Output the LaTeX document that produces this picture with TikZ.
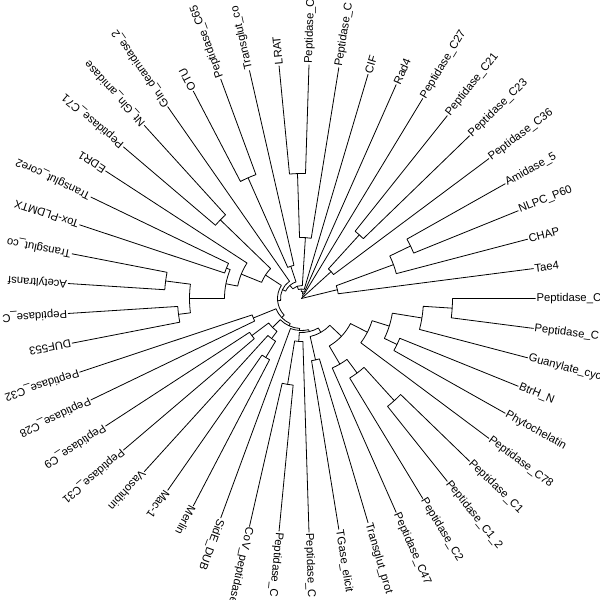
\documentclass[tikz,border=0pt]{standalone}
\usepackage{fontspec}
\setmainfont{Liberation Sans}
\newcommand\tipL[3]{\coordinate (#1) at (#2:234pt); \node[lab,rotate=#2] (#1n) at (#1) {#3};}
\newcommand\clade[7]{\coordinate (#1) at (#2:#3pt);
  \draw[br] (#4) -- (#5:#3pt) arc[start angle=#5, end angle=#7, radius=#3pt] -- (#6);}
\begin{document}
\begin{tikzpicture}[x=1pt,y=1pt,
  br/.style={line width=0.8pt, line join=round},
  lab/.style={anchor=west, inner sep=0.8pt, font=\fontsize{11.3pt}{13pt}\selectfont}]
\useasboundingbox (0,0) rectangle (600,600);
\fill[white] (0,0) rectangle (600,600);
\clip (0,0) rectangle (600,600);
\begin{scope}[shift={(301.5,301.5)}]
\tipL{t1}{7.347}{Tae4}
\tipL{t2}{14.694}{CHAP}
\tipL{t3}{22.041}{NLPC\_P60}
\tipL{t4}{29.388}{Amidase\_5}
\tipL{t5}{36.735}{Peptidase\_C36}
\tipL{t6}{44.082}{Peptidase\_C23}
\tipL{t7}{51.429}{Peptidase\_C21}
\tipL{t8}{58.776}{Peptidase\_C27}
\tipL{t9}{66.122}{Rad4}
\tipL{t10}{73.469}{CIF}
\tipL{t11}{80.816}{Peptidase\_C}
\tipL{t12}{88.163}{Peptidase\_C}
\tipL{t13}{95.510}{LRAT}
\tipL{t14}{102.857}{Transglut\_co}
\tipL{t15}{110.204}{Peptidase\_C65}
\tipL{t16}{117.551}{OTU}
\tipL{t17}{124.898}{Gln\_deamidase\_2}
\tipL{t18}{132.245}{Nt\_Gln\_amidase}
\tipL{t19}{139.592}{Peptidase\_C71}
\tipL{t20}{146.939}{EDR1}
\tipL{t21}{154.286}{Transglut\_core2}
\tipL{t22}{161.633}{Tox-PLDMTX}
\tipL{t23}{168.980}{Transglut\_co}
\tipL{t24}{176.327}{Acetyltransf}
\tipL{t25}{183.673}{Peptidase\_C}
\tipL{t26}{191.020}{DUF553}
\tipL{t27}{198.367}{Peptidase\_C32}
\tipL{t28}{205.714}{Peptidase\_C28}
\tipL{t29}{213.061}{Peptidase\_C9}
\tipL{t30}{220.408}{Peptidase\_C31}
\tipL{t31}{227.755}{Vasohibin}
\tipL{t32}{235.102}{Mac-1}
\tipL{t33}{242.449}{Merlin}
\tipL{t34}{249.796}{SidE\_DUB}
\tipL{t35}{257.143}{CoV\_peptidase}
\tipL{t36}{264.490}{Peptidase\_C}
\tipL{t37}{271.837}{Peptidase\_C}
\tipL{t38}{279.184}{TGase\_elicit}
\tipL{t39}{286.531}{Transglut\_prot}
\tipL{t40}{293.878}{Peptidase\_C47}
\tipL{t41}{301.224}{Peptidase\_C2}
\tipL{t42}{308.571}{Peptidase\_C1\_2}
\tipL{t43}{315.918}{Peptidase\_C1}
\tipL{t44}{323.265}{Peptidase\_C78}
\tipL{t45}{330.612}{Phytochelatin}
\tipL{t46}{337.959}{BtrH\_N}
\tipL{t47}{345.306}{Guanylate\_cyc}
\tipL{t48}{352.653}{Peptidase\_C}
\tipL{t49}{360}{Peptidase\_C}
% clades: name, angle, radius, child1, angle1, child2, angle2
\clade{kAN}{25.714}{121}{t4}{29.388}{t3}{22.041}
\clade{L1}{20.204}{98}{kAN}{25.714}{t2}{14.694}
\clade{M}{13.776}{37}{L1}{20.204}{t1}{7.347}
\clade{O}{47.755}{86}{t7}{51.429}{t6}{44.082}
\clade{N}{42.245}{40}{O}{47.755}{t5}{36.735}
\clade{Na}{91.837}{125}{t13}{95.510}{t12}{88.163}
\clade{Nb}{86.327}{61}{Na}{91.837}{t11}{80.816}
\clade{P}{113.878}{132}{t16}{117.551}{t15}{110.204}
\clade{TP}{108.367}{34}{P}{113.878}{t14}{102.857}
\clade{Q}{135.918}{113}{t19}{139.592}{t18}{132.245}
\clade{R}{157.959}{81}{t22}{161.633}{t21}{154.286}
\clade{S}{172.653}{137}{t24}{176.327}{t23}{168.980}
\clade{T}{187.347}{124}{t26}{191.020}{t25}{183.673}
\clade{U}{180}{112}{T}{187.347}{S}{172.653}
\clade{FF}{168.980}{77}{U}{180}{R}{157.959}
\clade{GG}{157.959}{65}{FF}{168.980}{t20}{146.939}
\clade{V}{146.939}{43}{GG}{157.959}{Q}{135.918}
\clade{BB}{202.041}{52}{t28}{205.714}{t27}{198.367}
\clade{CC}{216.735}{62}{t30}{220.408}{t29}{213.061}
\clade{W}{238.776}{69}{t33}{242.449}{t32}{235.102}
\clade{DD}{233.265}{50}{W}{238.776}{t31}{227.755}
\clade{EE}{225.0}{41}{DD}{233.265}{CC}{216.735}
\clade{X}{260.816}{87}{t36}{264.490}{t35}{257.143}
\clade{Y}{266.327}{43}{t37}{271.837}{X}{260.816}
\clade{AA}{282.857}{63}{t39}{286.531}{t38}{279.184}
\clade{A}{356.327}{151}{t49}{360}{t48}{352.653}
\clade{B}{350.816}{122}{A}{356.327}{t47}{345.306}
\clade{C}{334.286}{106}{t46}{337.959}{t45}{330.612}
\clade{D}{342.551}{92}{B}{350.816}{C}{334.286}
\clade{E}{332.908}{74}{D}{342.551}{t44}{323.265}
\clade{H}{312.245}{138}{t43}{315.918}{t42}{308.571}
\clade{G}{306.735}{93}{H}{312.245}{t41}{301.224}
\clade{I}{300.306}{76}{G}{306.735}{t40}{293.878}
\clade{J}{316.607}{55}{E}{332.908}{I}{300.306}
\clade{K}{299.732}{39}{J}{316.607}{AA}{282.857}
% backbone
\clade{Ln}{283.030}{34}{K}{299.732}{Y}{266.327}
\clade{Ls}{266.413}{32}{Ln}{283.030}{t34}{249.796}
\clade{Le}{245.707}{30}{Ls}{266.413}{EE}{225.0}
\clade{Lb}{223.874}{27.5}{Le}{245.707}{BB}{202.041}
\clade{Lv}{185.406}{24}{Lb}{223.874}{V}{146.939}
\clade{Lg}{155.152}{21}{Lv}{185.406}{t17}{124.898}
\clade{Lt}{131.760}{17.5}{Lg}{155.152}{TP}{108.367}
\clade{Lnb}{109.043}{13}{Lt}{131.760}{Nb}{86.327}
\clade{Lc}{91.256}{9.5}{Lnb}{109.043}{t10}{73.469}
\clade{Lr}{78.689}{7}{Lc}{91.256}{t9}{66.122}
\clade{L27}{68.733}{5}{Lr}{78.689}{t8}{58.776}
\clade{LN}{55.489}{3}{L27}{68.733}{N}{42.245}
\coordinate (root) at (0,0);
\draw[br] (LN) -- (root) -- (M);
\end{scope}
\end{tikzpicture}
\end{document}
